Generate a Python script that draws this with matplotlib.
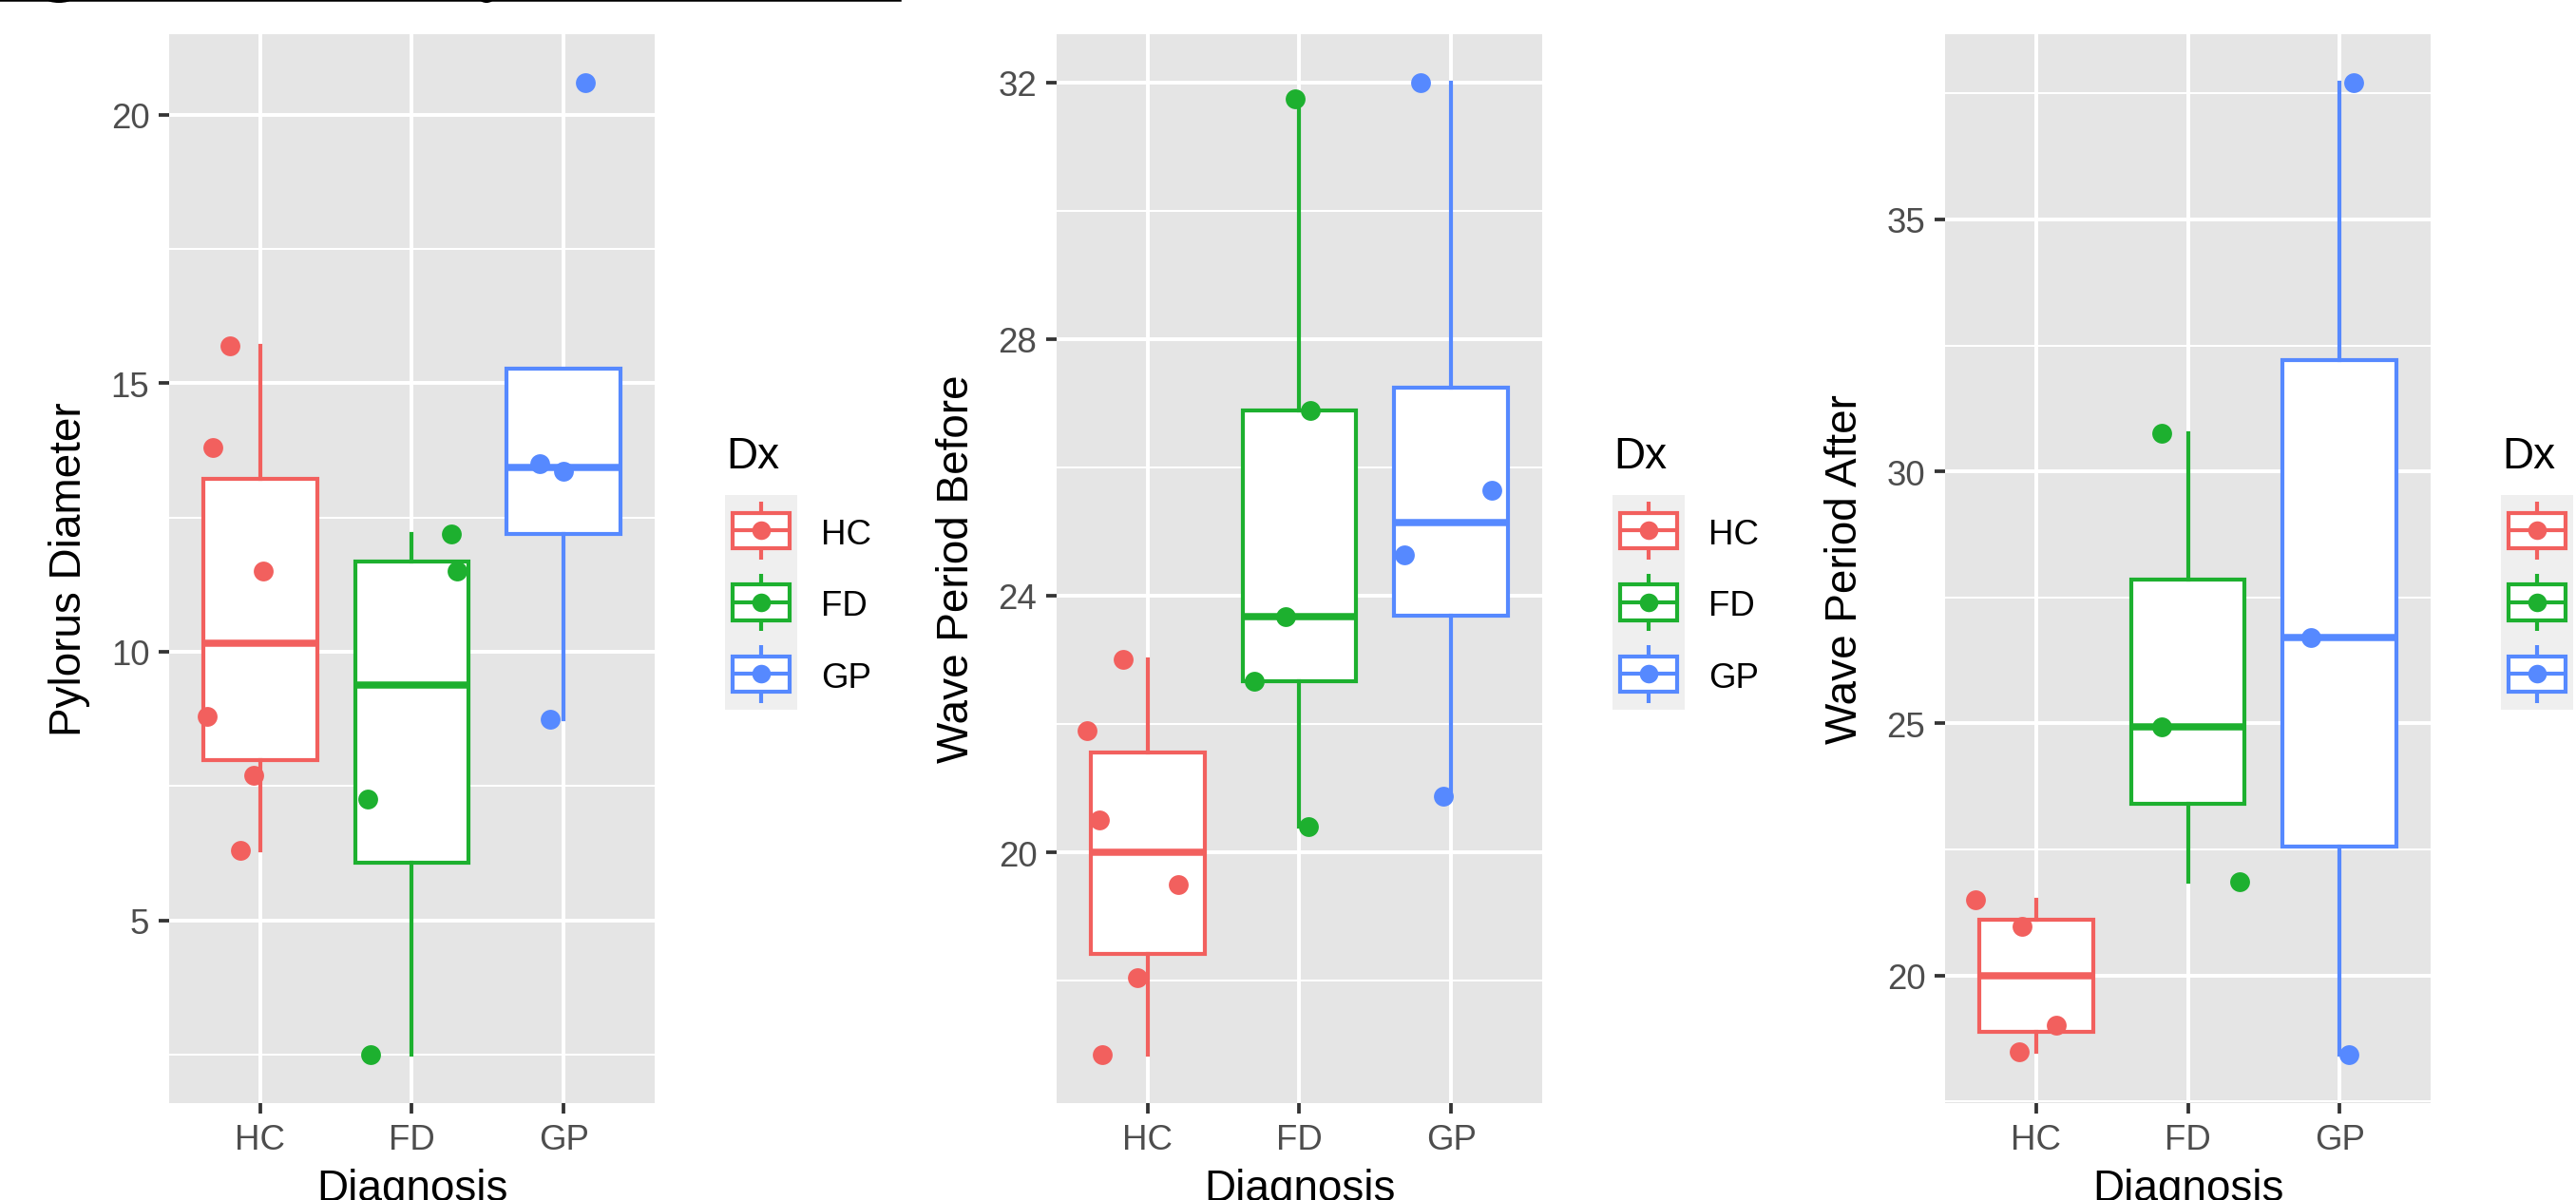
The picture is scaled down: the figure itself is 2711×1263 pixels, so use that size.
import numpy as np
import matplotlib
matplotlib.use("Agg")
import matplotlib.pyplot as plt
from matplotlib.lines import Line2D
from matplotlib.patches import Rectangle, Ellipse

plt.rcParams['font.family'] = ['Liberation Sans', 'DejaVu Sans']

groups = ['HC', 'FD', 'GP']
colors = ['#F2605E', '#1DB02F', '#5689FF']

# Pylorus Diameter
pyl_hc = [15.7, 13.8, 11.5, 8.8, 7.7, 6.3]
pyl_fd = [12.2, 11.5, 7.25, 2.5]
pyl_gp = [20.6, 13.5, 13.35, 8.75]
pyl_hc_jit = [-0.20, -0.31, 0.02, -0.35, -0.04, -0.13]
pyl_fd_jit = [0.26, 0.30, -0.29, -0.27]
pyl_gp_jit = [0.14, -0.16, 0.0, -0.09]

# Wave Period Before
wpb_hc = [23.0, 21.9, 20.5, 19.5, 18.05, 16.85]
wpb_fd = [31.75, 26.88, 23.68, 22.67, 20.4]
wpb_gp = [32.0, 25.65, 24.63, 20.87]
wpb_hc_jit = [-0.16, -0.40, -0.32, 0.20, -0.07, -0.30]
wpb_fd_jit = [-0.03, 0.07, -0.09, -0.30, 0.06]
wpb_gp_jit = [-0.20, 0.27, -0.31, -0.05]

# Wave Period After
wpa_hc = [21.5, 20.98, 19.02, 18.48]
wpa_fd = [30.75, 24.94, 21.85]
wpa_gp = [37.72, 26.7, 18.43]
wpa_hc_jit = [-0.40, -0.09, 0.13, -0.11]
wpa_fd_jit = [-0.17, -0.175, 0.34]
wpa_gp_jit = [0.09, -0.19, 0.06]

panels = [
    ('Pylorus Diameter', [pyl_hc, pyl_fd, pyl_gp], [pyl_hc_jit, pyl_fd_jit, pyl_gp_jit],
     [5, 10, 15, 20], [2.5, 7.5, 12.5, 17.5]),
    ('Wave Period Before', [wpb_hc, wpb_fd, wpb_gp], [wpb_hc_jit, wpb_fd_jit, wpb_gp_jit],
     [20, 24, 28, 32], [18, 22, 26, 30]),
    ('Wave Period After', [wpa_hc, wpa_fd, wpa_gp], [wpa_hc_jit, wpa_fd_jit, wpa_gp_jit],
     [20, 25, 30, 35], [17.5, 22.5, 27.5, 32.5, 37.5]),
]

W, H = 2712, 1264
fig = plt.figure(figsize=(W / 300, H / 300), dpi=300)

panel_left = [178, 1112, 2047]
p_top, p_bot, p_w = 36.5, 1162, 511
box_lw = 1.0

for k, (ylab, data, jits, major, minor) in enumerate(panels):
    l = panel_left[k]
    ax = fig.add_axes([l / W, 1 - p_bot / H, p_w / W, (p_bot - p_top) / H])
    ax.set_facecolor('#E5E5E5')

    bp = ax.boxplot(data, positions=[1, 2, 3], widths=0.75, whis=1.5,
                    showfliers=False, showcaps=False, patch_artist=True)
    for i, c in enumerate(colors):
        b = bp['boxes'][i]
        b.set_facecolor('white')
        b.set_edgecolor(c)
        b.set_linewidth(box_lw)
        b.set_joinstyle('miter')
        for w in bp['whiskers'][2 * i:2 * i + 2]:
            w.set_color(c)
            w.set_linewidth(box_lw)
        m = bp['medians'][i]
        m.set_color(c)
        m.set_linewidth(1.8)
        m.set_solid_capstyle('butt')

    for i, c in enumerate(colors):
        x = np.full(len(data[i]), i + 1.0) + np.array(jits[i])
        ax.scatter(x, data[i], s=25, color=c, linewidths=0, zorder=4)

    allv = np.concatenate([np.array(d) for d in data])
    lo, hi = allv.min(), allv.max()
    pad = 0.05 * (hi - lo)
    ax.set_ylim(lo - pad, hi + pad)
    ax.set_xlim(0.4, 3.6)
    ax.set_xticks([1, 2, 3], groups)
    ax.set_yticks(major)
    ax.set_yticks(minor, minor=True)
    ax.tick_params(which='major', length=2.75, width=0.9, color='#333333',
                   labelcolor='#4D4D4D', labelsize=8.8, pad=2.2)
    ax.tick_params(which='minor', length=0)
    ax.grid(True, which='major', color='white', lw=0.95)
    ax.grid(True, which='minor', axis='y', color='white', lw=0.48)
    ax.set_axisbelow(True)
    for s in ax.spines.values():
        s.set_visible(False)

    ax.set_ylabel(ylab, fontsize=11, color='black', va='center')
    ax.yaxis.set_label_coords(-105 / p_w, 0.5)
    ax.set_xlabel('Diagnosis', fontsize=11, color='black', va='baseline')
    ax.xaxis.set_label_coords(0.5, (-0.5 / H - (1 - p_bot / H)) / ((p_bot - p_top) / H))

    # legend
    lg_l, lg_t, key_h, key_w = l + 585, 521.7, 75.5, 76
    lax = fig.add_axes([lg_l / W, 1 - (lg_t + 3 * key_h) / H, key_w / W, 3 * key_h / H])
    lax.set_xlim(0, 1)
    lax.set_ylim(3, 0)
    lax.axis('off')
    lax.add_patch(Rectangle((0, 0), 1, 3, fc='#EFEFEF', ec='none'))
    for i, c in enumerate(colors):
        lax.plot([0.5, 0.5], [i + 0.1, i + 0.25], color=c, lw=box_lw, solid_capstyle='butt')
        lax.plot([0.5, 0.5], [i + 0.75, i + 0.9], color=c, lw=box_lw, solid_capstyle='butt')
        lax.add_patch(Rectangle((0.1, i + 0.25), 0.8, 0.5, fc='white', ec=c, lw=box_lw,
                                joinstyle='miter'))
        lax.plot([0.1, 0.9], [i + 0.5, i + 0.5], color=c, lw=box_lw, solid_capstyle='butt')
        lax.scatter([0.5], [i + 0.5], s=22, color=c, linewidths=0, zorder=4)
        yb = lg_t + key_h * (i + 0.5) + 13.1
        fig.text((lg_l + 101) / W, 1 - yb / H, groups[i], fontsize=8.8,
                 color='black', va='baseline')
    fig.text((lg_l + 1) / W, 1 - 493 / H, 'Dx', fontsize=11, color='black', va='baseline')

# cropped title underline at the top edge
fig.add_artist(Line2D([0, 947 / W], [1 - 1.2 / H, 1 - 1.2 / H], color='black', lw=0.6))
for cx, wd in [(62, 26), (512, 14)]:
    fig.add_artist(Ellipse((cx / W, 1.0), wd / W, 8 / H, transform=fig.transFigure,
                           fc='black', ec='none'))

fig.savefig('out.png', dpi=300)
